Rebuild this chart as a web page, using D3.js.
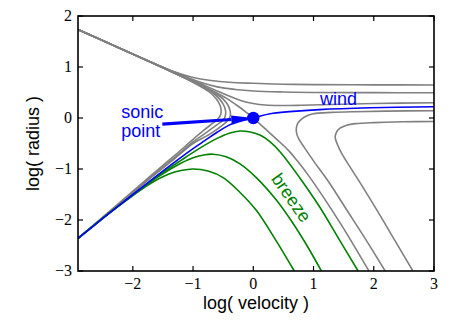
<!DOCTYPE html>
<html>
<head>
<meta charset="utf-8">
<script src="https://cdn.jsdelivr.net/npm/d3@7"></script>
<style>
  body { margin: 0; background: #fff; }
  svg { display: block; }
</style>
</head>
<body>
<div id="chart"></div>
<script>
// tick values
const xTicks = [-2, -1, 0, 1, 2, 3];
const yTicks = [-3, -2, -1, 0, 1, 2];

// curves, [log velocity, log radius]
const windCurve = [[-2.91,-2.36],[-2.5,-1.97],[-2.0,-1.5],[-1.6,-1.13],[-1.3,-0.86],[-1.0,-0.6],[-0.8,-0.44],[-0.6,-0.28],[-0.4,-0.14],[-0.2,-0.06],[0,0],[0.1,0.035],[0.28,0.085],[0.6,0.125],[1.1,0.165],[1.94,0.2],[3.0,0.222]];

const criticalCurve = [[-2.91,1.735],[-2.3,1.412],[-1.8,1.147],[-1.4,0.935],[-1.1,0.775],[-0.85,0.64],[-0.65,0.52],[-0.45,0.39],[-0.25,0.23],[-0.1,0.095],[0,0],[0.2,-0.215],[0.4,-0.43],[0.58,-0.63],[0.73,-0.84],[0.9,-1.1],[1.18,-1.58],[1.48,-2.13],[1.92,-3.0]];

const upper1 = [[-2.91,1.735],[-2.3,1.412],[-1.9,1.2],[-1.6,1.045],[-1.3,0.9],[-1.0,0.795],[-0.7,0.735],[-0.4,0.7],[0,0.68],[0.5,0.662],[1.0,0.655],[2.0,0.65],[3.0,0.647]];
const upper2 = [[-2.91,1.735],[-2.3,1.412],[-1.8,1.147],[-1.4,0.945],[-1.1,0.8],[-0.85,0.69],[-0.6,0.61],[-0.3,0.56],[0,0.53],[0.5,0.51],[1.0,0.5],[2.0,0.497],[3.0,0.496]];
const upper3 = [[-2.91,1.735],[-2.3,1.412],[-1.8,1.147],[-1.4,0.94],[-1.1,0.785],[-0.85,0.66],[-0.6,0.53],[-0.4,0.43],[-0.2,0.34],[0,0.285],[0.2,0.255],[0.45,0.245],[0.8,0.25],[1.3,0.265],[2.0,0.283],[3.0,0.3]];

const nose1 = [[-2.91,1.735],[-2.3,1.412],[-1.8,1.147],[-1.4,0.928],[-1.1,0.76],[-0.88,0.62],[-0.72,0.5],[-0.62,0.38],[-0.56,0.27],[-0.535,0.17],[-0.54,0.07],[-0.58,-0.01],[-0.66,-0.09],[-0.82,-0.24],[-1.0,-0.42],[-1.3,-0.73],[-1.7,-1.13],[-2.2,-1.64],[-2.91,-2.36]];
const nose2 = [[-2.91,1.735],[-2.3,1.412],[-1.8,1.147],[-1.4,0.93],[-1.1,0.765],[-0.85,0.62],[-0.68,0.5],[-0.56,0.37],[-0.49,0.25],[-0.46,0.14],[-0.465,0.04],[-0.5,-0.04],[-0.6,-0.13],[-0.8,-0.3],[-1.0,-0.47],[-1.3,-0.77],[-1.7,-1.16],[-2.2,-1.66],[-2.91,-2.36]];
const nose3 = [[-2.91,1.735],[-2.3,1.412],[-1.8,1.147],[-1.4,0.932],[-1.1,0.77],[-0.85,0.63],[-0.65,0.5],[-0.5,0.37],[-0.42,0.25],[-0.385,0.14],[-0.38,0.05],[-0.41,-0.03],[-0.5,-0.13],[-0.7,-0.3],[-1.0,-0.5],[-1.3,-0.79],[-1.7,-1.17],[-2.2,-1.67],[-2.91,-2.36]];

const right1 = [[2.19,-3.0],[1.85,-2.35],[1.55,-1.8],[1.25,-1.25],[1.0,-0.84],[0.86,-0.6],[0.76,-0.42],[0.72,-0.3],[0.715,-0.2],[0.74,-0.1],[0.8,-0.02],[0.9,0.05],[1.0,0.085],[1.3,0.11],[1.66,0.124],[2.2,0.135],[3.0,0.143]];
const right2 = [[2.65,-3.0],[2.35,-2.4],[2.05,-1.8],[1.8,-1.32],[1.6,-0.95],[1.47,-0.7],[1.39,-0.5],[1.36,-0.38],[1.38,-0.28],[1.44,-0.2],[1.55,-0.14],[1.7,-0.11],[2.0,-0.09],[2.5,-0.075],[3.0,-0.068]];

const breeze1 = [[-2.91,-2.36],[-2.4,-1.87],[-2.0,-1.52],[-1.7,-1.28],[-1.4,-1.1],[-1.2,-1.03],[-1.0,-1.0],[-0.75,-1.04],[-0.5,-1.17],[-0.22,-1.46],[0.05,-1.81],[0.376,-2.4],[0.68,-3.0]];
const breeze2 = [[-2.91,-2.36],[-2.3,-1.78],[-1.9,-1.43],[-1.6,-1.17],[-1.3,-0.95],[-1.0,-0.78],[-0.8,-0.72],[-0.67,-0.71],[-0.45,-0.76],[-0.22,-0.9],[0.05,-1.17],[0.376,-1.6],[0.65,-2.05],[0.9,-2.52],[1.13,-3.0]];
const breeze3 = [[-2.91,-2.36],[-2.3,-1.78],[-1.9,-1.42],[-1.5,-1.07],[-1.2,-0.83],[-0.9,-0.6],[-0.6,-0.4],[-0.4,-0.3],[-0.22,-0.255],[-0.05,-0.275],[0.12,-0.34],[0.28,-0.47],[0.45,-0.67],[0.77,-1.17],[1.1,-1.74],[1.4,-2.33],[1.74,-3.0]];

const sonicPoint = [0, 0];
const arrowStart = [-1.51, -0.12];

const W = 457, H = 327;
const margin = { top: 16, right: 23, bottom: 56, left: 78 };
const w = W - margin.left - margin.right,
      h = H - margin.top - margin.bottom;

const x = d3.scaleLinear().domain([-2.91, 3]).range([0, w]);
const y = d3.scaleLinear().domain([-3, 2]).range([h, 0]);

const svg = d3.select("#chart").append("svg")
    .attr("width", W)
    .attr("height", H);

svg.append("rect").attr("width", W).attr("height", H).attr("fill", "#fff");

const g = svg.append("g")
    .attr("transform", "translate(" + margin.left + "," + margin.top + ")");

g.append("clipPath").attr("id", "clip")
  .append("rect").attr("width", w).attr("height", h);

const line = d3.line()
    .x(d => x(d[0]))
    .y(d => y(d[1]))
    .curve(d3.curveCatmullRom.alpha(0.5));

const gray = "#808080", green = "#008000", blue = "#0000ff";

const curves = [
  { data: upper1, color: gray },
  { data: upper2, color: gray },
  { data: upper3, color: gray },
  { data: nose1, color: gray },
  { data: nose2, color: gray },
  { data: nose3, color: gray },
  { data: right1, color: gray },
  { data: right2, color: gray },
  { data: criticalCurve, color: gray },
  { data: breeze1, color: green },
  { data: breeze2, color: green },
  { data: breeze3, color: green },
  { data: windCurve, color: blue }
];

const plot = g.append("g").attr("clip-path", "url(#clip)");

plot.selectAll("path.curve")
  .data(curves)
  .enter().append("path")
    .attr("class", "curve")
    .attr("d", d => line(d.data))
    .attr("fill", "none")
    .attr("stroke", d => d.color)
    .attr("stroke-width", 1.6)
    .attr("stroke-linejoin", "round");

// arrow pointing at the sonic point
const ax0 = x(arrowStart[0]), ay0 = y(arrowStart[1]);
const ax1 = x(sonicPoint[0]), ay1 = y(sonicPoint[1]);
const ang = Math.atan2(ay1 - ay0, ax1 - ax0);
const headLen = 22, headHalf = 4;
const bx = ax1 - headLen * Math.cos(ang), by = ay1 - headLen * Math.sin(ang);

g.append("line")
    .attr("x1", ax0).attr("y1", ay0)
    .attr("x2", bx).attr("y2", by)
    .attr("stroke", blue)
    .attr("stroke-width", 3.2);

g.append("path")
    .attr("d", "M" + ax1 + "," + ay1 +
               "L" + (bx - headHalf * Math.sin(ang)) + "," + (by + headHalf * Math.cos(ang)) +
               "L" + (bx + headHalf * Math.sin(ang)) + "," + (by - headHalf * Math.cos(ang)) + "Z")
    .attr("fill", blue);

g.append("circle")
    .attr("cx", ax1).attr("cy", ay1)
    .attr("r", 6.2)
    .attr("fill", blue);

// annotations
const annot = g.append("g")
    .style("font-family", "'Liberation Sans', Arial, sans-serif")
    .style("font-size", "18px");

annot.append("text")
    .attr("x", x(-2.194)).attr("y", y(0))
    .attr("fill", blue)
    .text("sonic");
annot.append("text")
    .attr("x", x(-2.194)).attr("y", y(-0.373))
    .attr("fill", blue)
    .text("point");
annot.append("text")
    .attr("x", x(1.106)).attr("y", y(0.255))
    .attr("fill", blue)
    .text("wind");
annot.append("text")
    .attr("transform", "translate(" + x(0.633) + "," + y(-1.56) + ") rotate(55)")
    .attr("text-anchor", "middle")
    .attr("dy", "0.35em")
    .attr("fill", green)
    .text("breeze");

// frame and ticks
const tickLen = 5;
const axes = g.append("g").attr("stroke", "#000").attr("stroke-width", 1.2);

axes.selectAll("line.xt")
  .data(xTicks)
  .enter().append("line")
    .attr("x1", d => x(d)).attr("x2", d => x(d))
    .attr("y1", h).attr("y2", h - tickLen);
axes.selectAll("line.xtt")
  .data(xTicks)
  .enter().append("line")
    .attr("x1", d => x(d)).attr("x2", d => x(d))
    .attr("y1", 0).attr("y2", tickLen);
axes.selectAll("line.yt")
  .data(yTicks)
  .enter().append("line")
    .attr("y1", d => y(d)).attr("y2", d => y(d))
    .attr("x1", 0).attr("x2", tickLen);
axes.selectAll("line.ytr")
  .data(yTicks)
  .enter().append("line")
    .attr("y1", d => y(d)).attr("y2", d => y(d))
    .attr("x1", w).attr("x2", w - tickLen);

g.append("rect")
    .attr("width", w).attr("height", h)
    .attr("fill", "none")
    .attr("stroke", "#000")
    .attr("stroke-width", 1.6);

const fmt = d => (d < 0 ? "\u2212" : "") + Math.abs(d);

const tickText = g.append("g")
    .style("font-family", "'Liberation Serif', 'DejaVu Serif', serif")
    .style("font-size", "16px")
    .attr("fill", "#000");

tickText.selectAll("text.xl")
  .data(xTicks)
  .enter().append("text")
    .attr("x", d => x(d))
    .attr("y", h + 18)
    .attr("text-anchor", "middle")
    .text(fmt);

tickText.selectAll("text.yl")
  .data(yTicks)
  .enter().append("text")
    .attr("x", -6)
    .attr("y", d => y(d) + 5)
    .attr("text-anchor", "end")
    .text(fmt);

// axis labels
const labels = svg.append("g")
    .style("font-family", "'Liberation Sans', Arial, sans-serif")
    .style("font-size", "18px")
    .attr("fill", "#000");

labels.append("text")
    .attr("x", margin.left + w / 2)
    .attr("y", 309)
    .attr("text-anchor", "middle")
    .text("log( velocity )");

labels.append("text")
    .attr("transform", "translate(38.5," + (margin.top + h / 2) + ") rotate(-90)")
    .attr("text-anchor", "middle")
    .text("log( radius )");
</script>
</body>
</html>
